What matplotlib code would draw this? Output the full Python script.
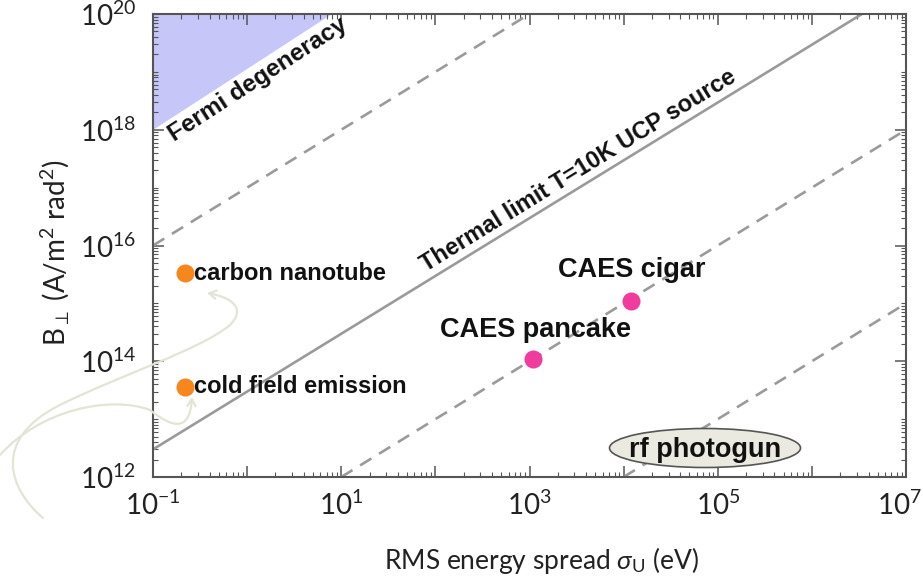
import numpy as np
import matplotlib
matplotlib.use("Agg")
import matplotlib.pyplot as plt
from matplotlib.path import Path
from matplotlib.patches import FancyArrowPatch, Ellipse
from matplotlib.ticker import FixedLocator, FuncFormatter, NullFormatter
from matplotlib.transforms import ScaledTranslation

# ---------------- data ----------------
x_min, x_max = 1e-1, 1e7
y_min, y_max = 1e12, 1e20

# Fermi degeneracy region (polygon vertices)
fermi_x = [0.1, 0.1, 8.0]
fermi_y = [1e18, 1e20, 1e20]

# Thermal limit T=10K UCP source (solid line endpoints)
thermal_x = [0.1, 3.4e6]
thermal_y = [3.0e12, 1e20]

# dashed brightness guide lines (endpoints)
dash1_x = [0.1, 1e3]
dash1_y = [1e16, 1e20]
dash2_x = [1e1, 1e7]
dash2_y = [1e12, 1e18]
dash3_x = [1e4, 1e7]
dash3_y = [1e12, 1e15]

# electron sources
emitter_names = ["carbon nanotube", "cold field emission"]
emitter_x = [0.22, 0.22]
emitter_y = [3.3e15, 3.6e13]

caes_names = ["CAES pancake", "CAES cigar"]
caes_x = [1.1e3, 1.2e4]
caes_y = [1.1e14, 1.1e15]

x_tick_exps = [-1, 0, 1, 2, 3, 4, 5, 6, 7]
y_tick_exps = [12, 14, 16, 18, 20]

# ---------------- style ----------------
plt.rcParams['font.family'] = ['Lato', 'DejaVu Sans']
plt.rcParams['mathtext.fontset'] = 'custom'
plt.rcParams['mathtext.rm'] = 'Lato'
plt.rcParams['mathtext.it'] = 'Lato:italic'
plt.rcParams['mathtext.bf'] = 'Lato:bold'

W, H = 923, 584
fig = plt.figure(figsize=(W / 100, H / 100), dpi=100)
ax_l, ax_r, ax_t, ax_b = 153, 906, 14, 477
ax = fig.add_axes([ax_l / W, 1 - ax_b / H, (ax_r - ax_l) / W, (ax_b - ax_t) / H])
ax.set_xscale('log')
ax.set_yscale('log')
ax.set_xlim(x_min, x_max)
ax.set_ylim(y_min, y_max)

line_gray = '#9a9a9a'
bold_font = ['Liberation Sans', 'DejaVu Sans']
txt_color = '#111111'

ax.fill(fermi_x, fermi_y, color='#c6c6f8', lw=0, zorder=1)
ax.plot(thermal_x, thermal_y, color=line_gray, lw=1.9, solid_capstyle='butt', zorder=2)
for xs, ys in [(dash1_x, dash1_y), (dash2_x, dash2_y), (dash3_x, dash3_y)]:
    ax.plot(xs, ys, color=line_gray, lw=1.9, ls=(0, (5, 3.4)), zorder=2)

ax.plot(emitter_x, emitter_y, 'o', color='#f7861c', ms=13, mec='none', zorder=4)
ax.plot(caes_x, caes_y, 'o', color='#f03c9c', ms=13, mec='none', zorder=4)

for name, x, y in zip(emitter_names, emitter_x, emitter_y):
    ax.annotate(name, (x, y), xytext=(6, 0), textcoords='offset points',
                ha='left', va='center', fontsize=17, fontweight='bold',
                family=bold_font, color=txt_color, zorder=5)

ax.text(10 ** 3.06, 10 ** 14.54, caes_names[0], ha='center', va='center',
        fontsize=19.5, fontweight='bold', family=bold_font, color=txt_color, zorder=5)
ax.text(10 ** 4.09, 10 ** 15.58, caes_names[1], ha='center', va='center',
        fontsize=19.5, fontweight='bold', family=bold_font, color=txt_color, zorder=5)

# rotated labels
fig.canvas.draw()
p0 = ax.transData.transform((1.0, 1e13))
p1 = ax.transData.transform((10.0, 1e14))
angle = np.degrees(np.arctan2(p1[1] - p0[1], p1[0] - p0[0]))
ax.text(10 ** 0.116, 10 ** 18.86, "Fermi degeneracy", rotation=angle + 1.5,
        rotation_mode='anchor', ha='center', va='center', fontsize=17.5,
        fontweight='bold', family=bold_font, color=txt_color, zorder=5)
ax.text(10 ** 3.52, 10 ** 17.30, "Thermal limit T=10K UCP source", rotation=angle,
        rotation_mode='anchor', ha='center', va='center', fontsize=17,
        fontweight='bold', family=bold_font, color=txt_color, zorder=5)

# rf photogun ellipse
ecx, ecy = (705 - ax_l) / (ax_r - ax_l), (ax_b - 448) / (ax_b - ax_t)
ell = Ellipse((ecx, ecy), 191 / (ax_r - ax_l), 39 / (ax_b - ax_t), transform=ax.transAxes,
              facecolor='#ebeae0', edgecolor='#555555', lw=1.2, zorder=5)
ax.add_patch(ell)
ax.text(ecx, ecy - 0.004, "rf photogun", transform=ax.transAxes, ha='center', va='center',
        fontsize=19.5, fontweight='bold', family=bold_font, color=txt_color, zorder=6)

# ticks
ax.xaxis.set_major_locator(FixedLocator([10.0 ** e for e in x_tick_exps]))
ax.xaxis.set_major_formatter(FuncFormatter(
    lambda v, p: (r'$10^{%d}$' % round(np.log10(v))) if round(np.log10(v)) % 2 == 1 else ''))
ax.yaxis.set_major_locator(FixedLocator([10.0 ** e for e in y_tick_exps]))
ax.yaxis.set_major_formatter(FuncFormatter(lambda v, p: r'$10^{%d}$' % round(np.log10(v))))
minor_x = [m * 10.0 ** e for e in range(-1, 7) for m in range(2, 10)]
minor_y = [m * 10.0 ** e for e in range(12, 20) for m in range(1, 10) if not (m == 1 and e % 2 == 0)]
ax.xaxis.set_minor_locator(FixedLocator(minor_x))
ax.yaxis.set_minor_locator(FixedLocator(minor_y))
ax.xaxis.set_minor_formatter(NullFormatter())
ax.yaxis.set_minor_formatter(NullFormatter())
ax.tick_params(which='both', direction='in', top=True, right=True, color='#555555')
ax.tick_params(which='major', length=8, width=1.1, labelsize=20, pad=10, labelcolor='#222222')
ax.tick_params(which='minor', length=3.5, width=0.8)
ax.tick_params(axis='y', which='major', pad=12)
for s in ax.spines.values():
    s.set_color('#555555')
    s.set_linewidth(1.5)

# shift the last x tick label slightly left so it stays inside the figure
fig.canvas.draw()
xl = [t for t in ax.get_xticklabels() if t.get_text()]
if xl:
    last = xl[-1]
    last.set_transform(last.get_transform() + ScaledTranslation(-7 / 100, 0, fig.dpi_scale_trans))

fig.text(55 / W, 1 - 253 / H, r'B$_{\perp}$ (A/m$^{2}$ rad$^{2}$)', rotation=90,
         ha='center', va='center', fontsize=20, color='#222222')
fig.text(541 / W, 1 - 560 / H, r'RMS energy spread $\sigma_{\mathrm{U}}$ (eV)',
         ha='center', va='center', fontsize=19, color='#222222')

# decorative faint curved arrows (from original slide)
def fp(px, py):
    return (px / W, 1 - py / H)

curve_color = '#e4e4d6'
path1 = Path([fp(43, 518), fp(10, 490), fp(-10, 440), fp(60, 405),
              fp(120, 375), fp(200, 350), fp(230, 325),
              fp(245, 310), fp(235, 298), fp(207, 293)],
             [Path.MOVETO, Path.CURVE4, Path.CURVE4, Path.CURVE4,
              Path.CURVE4, Path.CURVE4, Path.CURVE4,
              Path.CURVE4, Path.CURVE4, Path.CURVE4])
path2 = Path([fp(0, 455), fp(40, 410), fp(110, 395), fp(150, 410),
              fp(175, 430), fp(190, 430), fp(192, 397)],
             [Path.MOVETO, Path.CURVE4, Path.CURVE4, Path.CURVE4,
              Path.CURVE4, Path.CURVE4, Path.CURVE4])
for pth in (path1, path2):
    arr = FancyArrowPatch(path=pth, transform=fig.transFigure,
                          arrowstyle='->,head_length=5,head_width=3',
                          color=curve_color, lw=1.6, zorder=3)
    fig.add_artist(arr)

fig.savefig('out.png', dpi=100)
